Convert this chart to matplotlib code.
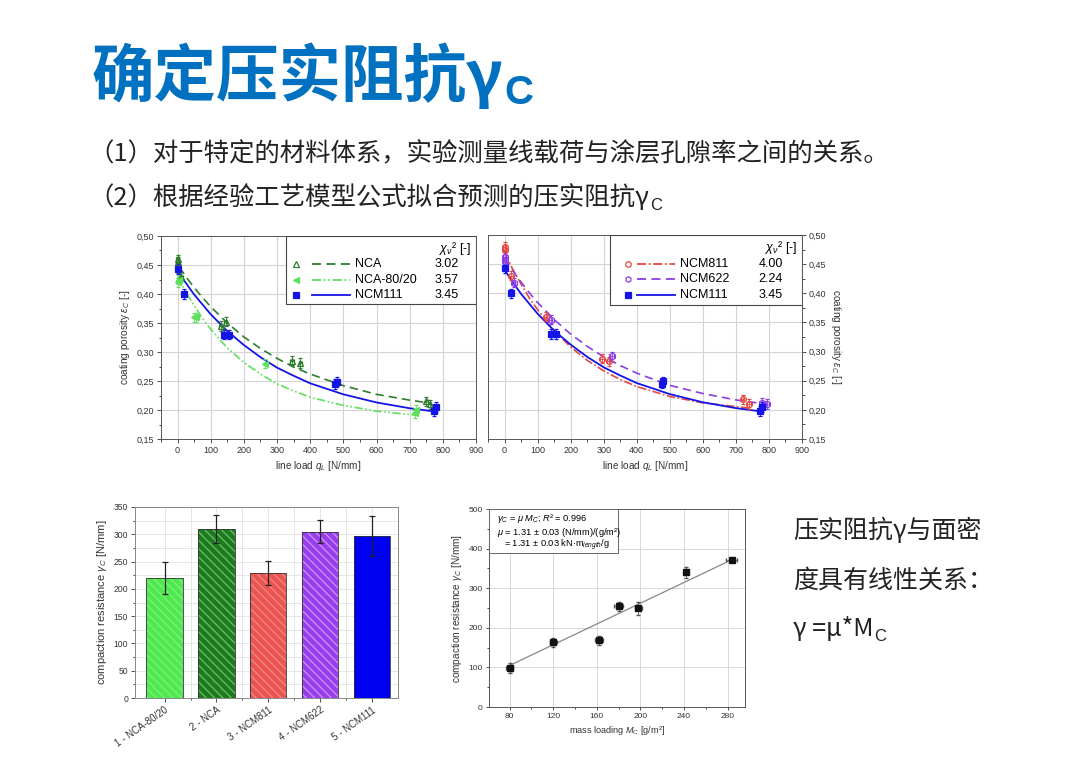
import matplotlib
matplotlib.use("Agg")
import matplotlib.pyplot as plt
from matplotlib.ticker import MultipleLocator, FuncFormatter
from matplotlib.patches import Rectangle
from matplotlib.transforms import ScaledTranslation

plt.rcParams['font.family'] = ['Liberation Sans', 'DejaVu Sans']
plt.rcParams['mathtext.fontset'] = 'custom'
plt.rcParams['mathtext.rm'] = 'Liberation Sans'
plt.rcParams['mathtext.it'] = 'Liberation Sans:italic'
plt.rcParams['mathtext.bf'] = 'Liberation Sans:bold'
CJK = ['Noto Sans CJK SC', 'DejaVu Sans']

# ---- porosity vs line load (measured points) ----
nca_q = [0, 0, 2, 10, 130, 145, 345, 370, 750, 760]
nca_e = [0.460, 0.455, 0.445, 0.430, 0.345, 0.352, 0.285, 0.281, 0.215, 0.210]
nca8020_q = [0, 3, 50, 56, 265, 715, 720]
nca8020_e = [0.420, 0.425, 0.360, 0.360, 0.280, 0.195, 0.200]
ncm111_q = [0, 20, 140, 155, 475, 480, 772, 780]
ncm111_e = [0.443, 0.400, 0.330, 0.330, 0.245, 0.249, 0.198, 0.205]
ncm811_q = [0, 0, 20, 125, 295, 315, 720, 740]
ncm811_e = [0.480, 0.475, 0.430, 0.360, 0.288, 0.283, 0.218, 0.210]
ncm622_q = [0, 0, 28, 140, 325, 780, 795]
ncm622_e = [0.462, 0.455, 0.418, 0.355, 0.292, 0.212, 0.210]

# ---- fitted curves ----
fit_nca_q = [5, 25, 50, 75, 100, 150, 200, 250, 300, 350, 400, 500, 600, 700, 760]
fit_nca_e = [0.446, 0.430, 0.411, 0.394, 0.378, 0.350, 0.326, 0.306, 0.289, 0.274, 0.262, 0.242, 0.227, 0.217, 0.212]
fit_8020_q = [0, 25, 50, 75, 100, 150, 200, 250, 300, 350, 400, 500, 600, 720]
fit_8020_e = [0.430, 0.403, 0.380, 0.358, 0.339, 0.307, 0.282, 0.262, 0.245, 0.233, 0.222, 0.208, 0.198, 0.191]
fit_111_q = [5, 25, 50, 75, 100, 150, 200, 250, 300, 350, 400, 500, 600, 700, 780]
fit_111_e = [0.436, 0.419, 0.399, 0.382, 0.365, 0.336, 0.312, 0.291, 0.273, 0.259, 0.246, 0.227, 0.213, 0.203, 0.197]
fit_811_q = [0, 25, 50, 75, 100, 150, 200, 250, 300, 350, 400, 500, 600, 740]
fit_811_e = [0.470, 0.441, 0.416, 0.392, 0.372, 0.336, 0.308, 0.285, 0.267, 0.252, 0.240, 0.223, 0.212, 0.203]
fit_622_q = [0, 25, 50, 75, 100, 150, 200, 250, 300, 350, 400, 500, 600, 700, 790]
fit_622_e = [0.460, 0.439, 0.419, 0.401, 0.384, 0.355, 0.330, 0.309, 0.291, 0.276, 0.263, 0.242, 0.228, 0.217, 0.210]

chi_left = ['3.02', '3.57', '3.45']
chi_right = ['4.00', '2.24', '3.45']

# ---- compaction resistance bars ----
materials = ['1 - NCA-80/20', '2 - NCA', '3 - NCM811', '4 - NCM622', '5 - NCM111']
gamma_c = [220, 310, 229, 305, 297]
gamma_err = [29, 26, 22, 21, 37]

# ---- gamma vs mass loading ----
mass = [80, 120, 162, 180, 198, 242, 284]
gamma_m = [98, 163, 168, 254, 249, 340, 371]
gamma_m_err = [12, 11, 12, 11, 16, 14, 6]
mass_err = [3, 3, 4, 4, 3, 2, 5]
fit_mass = [80, 284]
fit_gamma = [105, 372]

c_nca = '#2e7d2e'
c_8020 = '#5ee05e'
c_111 = '#1414e6'
c_811 = '#e8473f'
c_622 = '#8c3de6'

fig = plt.figure(figsize=(10.8, 7.64), dpi=100)
W, H = 1080.0, 764.0


def ax_at(l, t, r, b):
    return fig.add_axes([l / W, (H - b) / H, (r - l) / W, (b - t) / H])


comma = FuncFormatter(lambda v, p: f"{v:.2f}".replace('.', ','))


def porosity_axes(ax, right_side):
    ax.set_xlim(-50, 900)
    ax.set_ylim(0.15, 0.50)
    ax.xaxis.set_major_locator(MultipleLocator(100))
    ax.xaxis.set_minor_locator(MultipleLocator(50))
    ax.yaxis.set_major_locator(MultipleLocator(0.05))
    ax.yaxis.set_minor_locator(MultipleLocator(0.025))
    ax.yaxis.set_major_formatter(comma)
    ax.grid(True, which='major', color='#d4d4d4', lw=0.8)
    ax.set_axisbelow(True)
    ax.tick_params(labelsize=6.5, length=3, width=0.6, colors='#333333', direction='out', pad=2)
    ax.tick_params(which='minor', length=1.8, width=0.5)
    for s in ax.spines.values():
        s.set_color('#555555')
        s.set_linewidth(0.7)
    ax.set_xlabel(r"line load $q_L$ [N/mm]", fontsize=7.2, color='#333333', labelpad=3)
    if right_side:
        ax.yaxis.tick_right()
        ax.yaxis.set_label_position('right')
        ax.set_ylabel(r"coating porosity $\varepsilon_C$ [-]", fontsize=7.2, color='#333333',
                      rotation=270, labelpad=12)
    else:
        ax.set_ylabel(r"coating porosity $\varepsilon_C$ [-]", fontsize=7.2, color='#333333', labelpad=3)


def pts(ax, q, e, color, marker, filled, ms=4.6):
    ax.errorbar(q, e, yerr=0.008, xerr=5, fmt=marker, color=color, ecolor=color, elinewidth=0.6,
                capsize=1.5, capthick=0.6, ms=ms, mew=0.9,
                mfc=color if filled else 'none', zorder=4)


def legend_box(ax, x0, y0, rows):
    ax.add_patch(Rectangle((x0, y0), 1 - x0, 1 - y0, transform=ax.transAxes, fc='white',
                           ec='#444444', lw=0.8, zorder=6))
    ax.text(0.985, 0.94, r"$\chi_\nu$² [-]", transform=ax.transAxes, ha='right', va='center',
            fontsize=9, zorder=7)
    for (yy, color, marker, filled, ls, name, chi, mx, lx0, lx1, tx, vx) in rows:
        ax.plot([mx], [yy], marker=marker, color=color, mfc=color if filled else 'none', ms=4,
                mew=0.9, transform=ax.transAxes, zorder=7, clip_on=False)
        ax.plot([lx0, lx1], [yy, yy], color=color, ls=ls, lw=1.3, transform=ax.transAxes, zorder=7)
        ax.text(tx, yy, name, transform=ax.transAxes, fontsize=9, va='center', zorder=7)
        ax.text(vx, yy, chi, transform=ax.transAxes, fontsize=9, va='center', zorder=7)


# ---------------- top left ----------------
ax1 = ax_at(161, 236, 476, 439)
porosity_axes(ax1, False)
ax1.plot(fit_nca_q, fit_nca_e, color=c_nca, ls=(0, (5, 3)), lw=1.2, zorder=3)
ax1.plot(fit_8020_q, fit_8020_e, color=c_8020, ls=(0, (5, 1.5, 1, 1.5, 1, 1.5)), lw=1.2, zorder=3)
ax1.plot(fit_111_q, fit_111_e, color=c_111, ls='-', lw=1.3, zorder=3)
pts(ax1, nca_q, nca_e, c_nca, '^', False)
pts(ax1, nca8020_q, nca8020_e, c_8020, '<', True)
pts(ax1, ncm111_q, ncm111_e, c_111, 's', True)
legend_box(ax1, 0.397, 0.665, [
    (0.862, c_nca, '^', False, (0, (5, 3)), 'NCA', chi_left[0], 0.43, 0.48, 0.60, 0.615, 0.868),
    (0.783, c_8020, '<', True, (0, (5, 1.5, 1, 1.5, 1, 1.5)), 'NCA-80/20', chi_left[1], 0.43, 0.48, 0.60, 0.615, 0.868),
    (0.709, c_111, 's', True, '-', 'NCM111', chi_left[2], 0.43, 0.48, 0.60, 0.615, 0.868),
])

# ---------------- top right ----------------
ax2 = ax_at(488, 235, 802, 439)
porosity_axes(ax2, True)
ax2.plot(fit_811_q, fit_811_e, color=c_811, ls=(0, (5, 1.5, 1, 1.5)), lw=1.2, zorder=3)
ax2.plot(fit_622_q, fit_622_e, color=c_622, ls=(0, (5, 3)), lw=1.2, zorder=3)
ax2.plot(fit_111_q, fit_111_e, color=c_111, ls='-', lw=1.3, zorder=3)
pts(ax2, ncm811_q, ncm811_e, c_811, 'o', False, ms=4.2)
pts(ax2, ncm622_q, ncm622_e, c_622, 'h', False, ms=4.8)
pts(ax2, ncm111_q, ncm111_e, c_111, 's', True)
legend_box(ax2, 0.389, 0.657, [
    (0.857, c_811, 'o', False, (0, (5, 1.5, 1, 1.5)), 'NCM811', chi_right[0], 0.445, 0.475, 0.595, 0.61, 0.862),
    (0.783, c_622, 'h', False, (0, (5, 3)), 'NCM622', chi_right[1], 0.445, 0.475, 0.595, 0.61, 0.862),
    (0.706, c_111, 's', True, '-', 'NCM111', chi_right[2], 0.445, 0.475, 0.595, 0.61, 0.862),
])

# ---------------- bottom left: bars ----------------
ax3 = ax_at(135, 507, 398, 698)
xpos = list(range(1, len(materials) + 1))
bar_fc = ['#4fe84f', '#1f7a1f', '#ec5450', '#9a3cf0', '#0000f0']
bar_hatch = ['\\\\\\\\', '\\\\\\\\', '\\\\\\\\', '\\\\\\\\', '']
bar_hc = ['#7ef07e', '#66c266', '#f08a86', '#c99af7', '#0000f0']
plt.rcParams['hatch.linewidth'] = 0.9
for i, x in enumerate(xpos):
    plt.rcParams['hatch.color'] = bar_hc[i]
    ax3.bar(x, gamma_c[i], width=0.7, color=bar_fc[i], hatch=bar_hatch[i], edgecolor=bar_hc[i],
            lw=0, zorder=2)
    ax3.bar(x, gamma_c[i], width=0.7, fill=False, edgecolor='#333333', lw=0.6, zorder=3)
ax3.errorbar(xpos, gamma_c, yerr=gamma_err, fmt='none', ecolor='#222222', elinewidth=0.9,
             capsize=2.5, capthick=0.9, zorder=4)
ax3.set_xlim(0.43, 5.5)
ax3.set_ylim(0, 350)
ax3.yaxis.set_major_locator(MultipleLocator(50))
ax3.yaxis.set_minor_locator(MultipleLocator(25))
ax3.set_xticks(xpos)
ax3.set_xticks([1.5, 2.5, 3.5, 4.5], minor=True)
ax3.set_xticklabels(materials, rotation=35, ha='right', rotation_mode='anchor', fontsize=7)
shift = ScaledTranslation(10 / 100, 0, fig.dpi_scale_trans)
for lab in ax3.get_xticklabels():
    lab.set_transform(lab.get_transform() + shift)
ax3.grid(True, which='both', color='#e2e2e2', lw=0.6)
ax3.set_axisbelow(True)
ax3.tick_params(axis='y', labelsize=6.2)
ax3.tick_params(length=3, width=0.6, colors='#333333', pad=2)
ax3.tick_params(which='minor', length=1.6, width=0.5)
for s in ax3.spines.values():
    s.set_color('#888888')
    s.set_linewidth(0.7)
ax3.set_ylabel(r"compaction resistance $\gamma_C$ [N/mm]", fontsize=8, color='#333333', labelpad=3)

# ---------------- bottom right: gamma vs mass loading ----------------
ax4 = ax_at(489, 509, 745, 707)
ax4.plot(fit_mass, fit_gamma, color='#888888', lw=0.9, zorder=2)
ax4.errorbar(mass, gamma_m, yerr=gamma_m_err, xerr=mass_err, fmt='s', color='#111111',
             ecolor='#555555', elinewidth=0.6, capsize=1.2, ms=3.8, zorder=3)
ax4.set_xlim(61, 296)
ax4.set_ylim(0, 500)
ax4.xaxis.set_major_locator(MultipleLocator(40))
ax4.xaxis.set_minor_locator(MultipleLocator(20))
ax4.yaxis.set_major_locator(MultipleLocator(100))
ax4.yaxis.set_minor_locator(MultipleLocator(50))
ax4.grid(True, which='major', color='#d8d8d8', lw=0.7)
ax4.set_axisbelow(True)
ax4.tick_params(labelsize=6, length=2.5, width=0.6, colors='#333333', pad=2)
ax4.tick_params(which='minor', length=1.5, width=0.5)
for s in ax4.spines.values():
    s.set_color('#555555')
    s.set_linewidth(0.7)
ax4.set_xlabel(r"mass loading $M_C$ [g/m²]", fontsize=6.6, color='#333333', labelpad=3)
ax4.set_ylabel(r"compaction resistance $\gamma_C$ [N/mm]", fontsize=7.2, color='#333333', labelpad=3)
ax4.add_patch(Rectangle((0, 0.778), 0.504, 0.222, transform=ax4.transAxes, fc='white',
                        ec='#666666', lw=0.7, zorder=5))
ax4.text(0.03, 0.95, r"$\gamma_C$ = $\mu$ $M_C$; $R$² = 0.996", transform=ax4.transAxes,
         fontsize=6.7, va='center', zorder=6)
ax4.text(0.03, 0.879, r"$\mu$ = 1.31 ± 0.03 (N/mm)/(g/m²)", transform=ax4.transAxes,
         fontsize=6.7, va='center', zorder=6)
ax4.text(0.06, 0.815, r"= 1.31 ± 0.03 kN·m$_{length}$/g", transform=ax4.transAxes,
         fontsize=6.7, va='center', zorder=6)

# ---------------- slide text ----------------
renderer = fig.canvas.get_renderer()


def with_sub(x, y, main, sub, size, subsize, color, weight='normal', drop=0.0):
    t = fig.text(x / W, 1 - y / H, main, fontsize=size, color=color, family=CJK,
                 fontweight=weight, va='baseline')
    bb = t.get_window_extent(renderer)
    fig.text(bb.x1 / W + 0.001, 1 - (y + drop) / H, sub, fontsize=subsize, color=color,
             family=['Liberation Sans', 'DejaVu Sans'], fontweight=weight, va='baseline')


blue = '#0070c0'
dark = '#222222'
with_sub(92, 96, "确定压实阻抗γ", "C", 45, 29, blue, weight='bold', drop=8)
fig.text(88 / W, 1 - 161 / H, "（1）对于特定的材料体系，实验测量线载荷与涂层孔隙率之间的关系。",
         fontsize=18.3, color=dark, family=CJK, va='baseline')
with_sub(88, 205, "（2）根据经验工艺模型公式拟合预测的压实阻抗γ", "C", 18.3, 12, dark, drop=5)
fig.text(793 / W, 1 - 538 / H, "压实阻抗γ与面密", fontsize=18, color=dark, family=CJK, va='baseline')
fig.text(793 / W, 1 - 588 / H, "度具有线性关系：", fontsize=18, color=dark, family=CJK, va='baseline')
with_sub(793, 636, "γ =μ*M", "C", 18, 12, dark, drop=5)

fig.savefig('out.png', dpi=100)
